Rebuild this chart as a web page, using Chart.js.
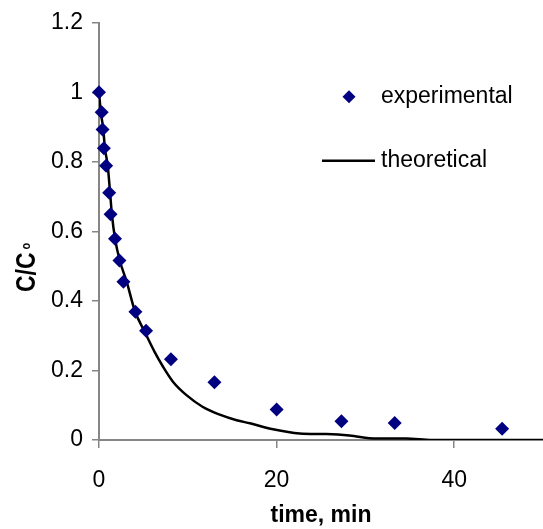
<!DOCTYPE html>
<html>
<head>
<meta charset="utf-8">
<script src="https://cdn.jsdelivr.net/npm/chart.js@4/dist/chart.umd.min.js"></script>
<style>
html,body{margin:0;padding:0;background:#fff;}
canvas{display:block;}
</style>
</head>
<body>
<canvas id="c" width="543" height="529"></canvas>
<script>
// Experimental data (time in min, C/Co)
const expTime = [0, 0.3, 0.4, 0.55, 0.8, 1.15, 1.3, 1.8, 2.3, 2.75, 4.1, 5.3, 8.1, 13, 20, 27.3, 33.3, 45.4];
const expConc = [1.0, 0.943, 0.893, 0.839, 0.789, 0.711, 0.649, 0.579, 0.516, 0.455, 0.369, 0.314, 0.232, 0.166, 0.088, 0.054, 0.049, 0.032];

// Theoretical curve
const theoTime = [0, 0.22, 0.48, 0.67, 0.98, 1.24, 1.45, 1.8, 2.36, 3.1, 4.04, 5.17, 6.29, 7.23, 8.35, 9.85, 11.7, 13.6, 15.5, 17, 19.6, 22.6, 25.6, 28.2, 31.2, 34.6, 37.5, 50];
const theoConc = [1, 0.94, 0.895, 0.838, 0.79, 0.714, 0.65, 0.58, 0.514, 0.457, 0.371, 0.31, 0.252, 0.21, 0.167, 0.129, 0.095, 0.073, 0.057, 0.048, 0.031, 0.019, 0.017, 0.013, 0.004, 0.004, 0, 0];

const xTickValues = [0, 20, 40];
const yTickValues = [0, 0.2, 0.4, 0.6, 0.8, 1, 1.2];

const seriesNames = ['experimental', 'theoretical'];
const xTitle = 'time, min';
const yTitleMain = 'C/C';
const yTitleSub = 'o';

const AXIS_GRAY = '#868686';
const FONT = 'Arial, "Liberation Sans", "DejaVu Sans", sans-serif';

const overlayPlugin = {
  id: 'overlay',
  afterDraw(chart) {
    const ctx = chart.ctx;
    const a = chart.chartArea;
    ctx.save();
    // legend diamond
    const dx = a.left + 250, dy = a.top + 74;
    ctx.fillStyle = '#000080';
    ctx.beginPath();
    ctx.moveTo(dx, dy - 6.5);
    ctx.lineTo(dx + 6.5, dy);
    ctx.lineTo(dx, dy + 6.5);
    ctx.lineTo(dx - 6.5, dy);
    ctx.closePath();
    ctx.fill();
    // legend line
    const ly = a.top + 138;
    ctx.strokeStyle = '#000';
    ctx.lineWidth = 2.5;
    ctx.beginPath();
    ctx.moveTo(a.left + 223, ly);
    ctx.lineTo(a.left + 276, ly);
    ctx.stroke();
    ctx.fillStyle = '#000';
    ctx.font = '23px ' + FONT;
    ctx.textBaseline = 'middle';
    ctx.textAlign = 'left';
    ctx.fillText(seriesNames[0], a.left + 282, dy);
    ctx.fillText(seriesNames[1], a.left + 282, ly);
    ctx.restore();

    // y-axis title, rotated
    ctx.save();
    ctx.translate(35, 292);
    ctx.rotate(-Math.PI / 2);
    ctx.scale(1, 1.2);
    ctx.fillStyle = '#000';
    ctx.textBaseline = 'alphabetic';
    ctx.textAlign = 'left';
    ctx.font = 'bold 23px ' + FONT;
    ctx.fillText(yTitleMain, 0, 0);
    const w = ctx.measureText(yTitleMain).width;
    ctx.font = 'bold 11px ' + FONT;
    ctx.fillText(yTitleSub, w + 3, -4);
    ctx.restore();
  }
};

new Chart(document.getElementById('c'), {
  type: 'scatter',
  data: {
    datasets: [
      {
        label: seriesNames[0],
        data: expTime.map((t, i) => ({x: t, y: expConc[i]})),
        pointStyle: 'rectRot',
        pointRadius: 7,
        backgroundColor: '#000080',
        borderColor: '#000080',
        borderWidth: 0,
        showLine: false,
        clip: false,
        order: 0
      },
      {
        label: seriesNames[1],
        data: theoTime.map((t, i) => ({x: t, y: theoConc[i]})),
        showLine: true,
        borderColor: '#000000',
        borderWidth: 2.5,
        pointRadius: 0,
        cubicInterpolationMode: 'monotone',
        fill: false,
        order: 1
      }
    ]
  },
  options: {
    responsive: false,
    animation: false,
    events: [],
    layout: {autoPadding: false, padding: {top: 20, right: 0, left: 0, bottom: 0}},
    plugins: {legend: {display: false}, tooltip: {enabled: false}},
    scales: {
      x: {
        type: 'linear',
        min: 0, max: 50,
        afterBuildTicks: s => { s.ticks = xTickValues.map(v => ({value: v})); },
        afterFit: s => { s.height = 89; s.paddingRight = 0; s.paddingLeft = 0; },
        border: {display: true, color: AXIS_GRAY, width: 2},
        grid: {drawOnChartArea: false, drawTicks: true, tickLength: 8, color: AXIS_GRAY, lineWidth: 1.5},
        ticks: {color: '#000', font: {size: 23, family: FONT}, padding: 19, maxRotation: 0},
        title: {display: true, text: xTitle, color: '#000', font: {size: 23, weight: 'bold', family: FONT}, padding: 0}
      },
      y: {
        type: 'linear',
        min: 0, max: 1.2,
        afterBuildTicks: s => { s.ticks = yTickValues.map(v => ({value: v})); },
        afterFit: s => { s.width = 99; },
        border: {display: true, color: AXIS_GRAY, width: 2},
        grid: {drawOnChartArea: false, drawTicks: true, tickLength: 7, color: AXIS_GRAY, lineWidth: 1.5},
        ticks: {color: '#000', font: {size: 23, family: FONT}, padding: 9, callback: v => String(Math.round(v * 10) / 10)}
      }
    }
  },
  plugins: [overlayPlugin]
});
</script>
</body>
</html>
